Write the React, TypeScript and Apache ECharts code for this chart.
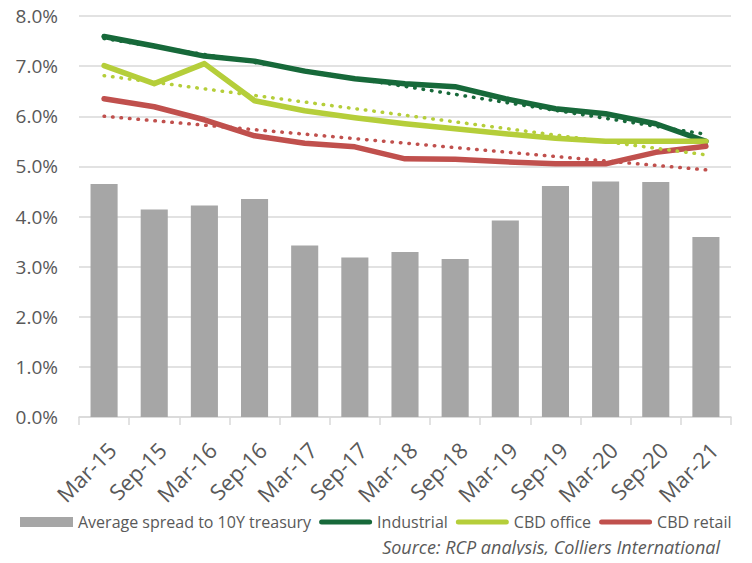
import React, { useEffect, useRef } from "react";
import * as echarts from "echarts";

const categories = ["Mar-15", "Sep-15", "Mar-16", "Sep-16", "Mar-17", "Sep-17", "Mar-18", "Sep-18", "Mar-19", "Sep-19", "Mar-20", "Sep-20", "Mar-21"];
const spread = [4.65, 4.14, 4.22, 4.35, 3.42, 3.18, 3.29, 3.15, 3.92, 4.61, 4.7, 4.69, 3.59];
const industrial = [7.59, 7.4, 7.2, 7.1, 6.9, 6.75, 6.65, 6.59, 6.35, 6.15, 6.05, 5.85, 5.5];
const cbdOffice = [7.01, 6.65, 7.05, 6.31, 6.11, 5.97, 5.85, 5.75, 5.65, 5.56, 5.5, 5.5, 5.5];
const cbdRetail = [6.35, 6.19, 5.93, 5.61, 5.46, 5.39, 5.15, 5.14, 5.09, 5.05, 5.05, 5.28, 5.4];
// linear trend endpoints (first and last category)
const industrialTrend = [7.55, 5.64];
const officeTrend = [6.81, 5.23];
const retailTrend = [6.0, 4.93];

const FONT = "'Open Sans'";
const TXT = "#595959";
const C_BAR = "#A6A6A6";
const C_IND = "#17693A";
const C_OFF = "#B5CE3A";
const C_RET = "#C0504D";
const LINE_ICON = "path://M2.5,0 H50.5 A2.5,2.5 0 0 1 50.5,5 H2.5 A2.5,2.5 0 0 1 2.5,0 Z";

export default function App() {
  const ref = useRef<HTMLDivElement>(null);
  useEffect(() => {
    const chart = echarts.init(ref.current!, null, { renderer: "svg" });
    const last = categories.length - 1;
    const trend = (name: string, v: number[], color: string) => ({
      name,
      type: "line",
      data: [[0, v[0]], [last, v[1]]],
      symbol: "none",
      lineStyle: { color, width: 3.5, type: [0.5, 8], cap: "round" },
      z: 5,
    });
    const solid = (name: string, data: number[], color: string) => ({
      name,
      type: "line",
      data,
      symbol: "none",
      itemStyle: { color },
      lineStyle: { color, width: 5.5, cap: "round", join: "round" },
      z: 4,
    });
    chart.setOption({
      animation: false,
      textStyle: { fontFamily: FONT },
      grid: { left: 79, right: 21, top: 16, bottom: 146, containLabel: false },
      legend: {
        data: [
          { name: "Average spread to 10Y treasury", icon: "rect" },
          { name: "Industrial", icon: LINE_ICON },
          { name: "CBD office", icon: LINE_ICON },
          { name: "CBD retail", icon: LINE_ICON },
        ],
        left: 15,
        top: 509,
        itemWidth: 53,
        itemHeight: 10,
        itemGap: 8,
        symbolKeepAspect: true,
        textStyle: { color: TXT, fontSize: 16, fontFamily: FONT },
      },
      xAxis: {
        type: "category",
        data: categories,
        boundaryGap: true,
        axisLine: { lineStyle: { color: "#D9D9D9", width: 1.5 } },
        axisTick: { show: true, length: 8, lineStyle: { color: "#D9D9D9", width: 1.5 } },
        axisLabel: {
          rotate: 45,
          color: TXT,
          fontSize: 22,
          fontFamily: FONT,
          margin: 21,
          interval: 0,
          verticalAlign: "top",
        },
      },
      yAxis: {
        type: "value",
        min: 0,
        max: 8,
        interval: 1,
        axisLine: { show: false },
        axisTick: { show: false },
        splitLine: { lineStyle: { color: "#D9D9D9", width: 1.5 } },
        axisLabel: {
          color: TXT,
          fontSize: 19,
          fontFamily: FONT,
          margin: 21,
          formatter: (v: number) => v.toFixed(1) + "%",
        },
      },
      series: [
        {
          name: "Average spread to 10Y treasury",
          type: "bar",
          data: spread,
          barWidth: "54%",
          itemStyle: { color: C_BAR },
          z: 2,
        },
        solid("Industrial", industrial, C_IND),
        solid("CBD office", cbdOffice, C_OFF),
        solid("CBD retail", cbdRetail, C_RET),
        trend("Industrial trend", industrialTrend, C_IND),
        trend("CBD office trend", officeTrend, C_OFF),
        trend("CBD retail trend", retailTrend, C_RET),
      ],
      graphic: [
        {
          type: "text",
          right: 32,
          top: 538,
          style: {
            text: "Source: RCP analysis, Colliers International",
            fill: TXT,
            font: `italic 18px ${FONT}`,
          },
        },
      ],
    });
    return () => chart.dispose();
  }, []);
  return <div ref={ref} style={{ width: 752, height: 563, margin: -8 }} />;
}
